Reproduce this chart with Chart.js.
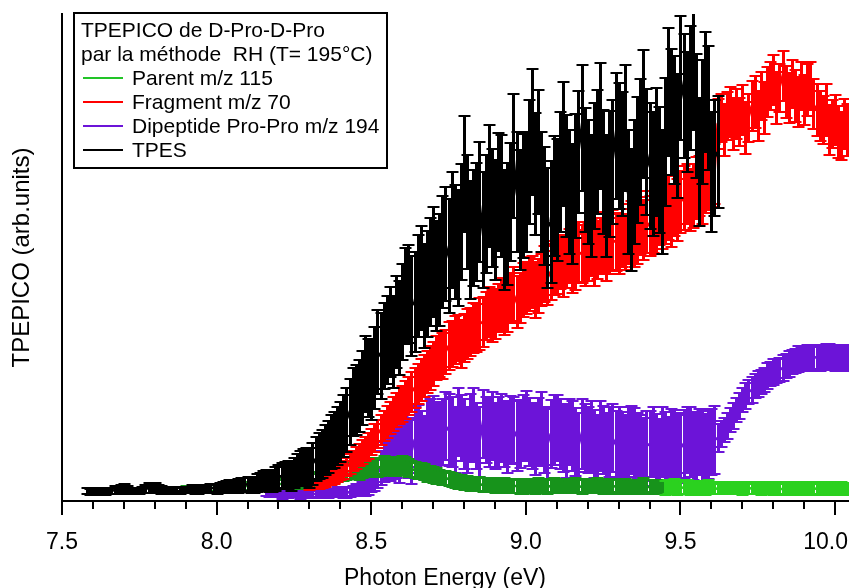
<!DOCTYPE html>
<html>
<head>
<meta charset="utf-8">
<script src="https://cdn.jsdelivr.net/npm/chart.js@4.4.0/dist/chart.umd.min.js"></script>
<style>
html,body{margin:0;padding:0;background:#ffffff;}
#wrap{width:849px;height:588px;position:relative;}
</style>
</head>
<body>
<div id="wrap"><canvas id="c" width="849" height="588"></canvas></div>
<script>
// ---------- DATA ----------
const energy = [
7.58,7.59,
7.60,7.61,7.62,7.63,7.64,7.65,7.66,7.67,7.68,7.69,
7.70,7.71,7.72,7.73,7.74,7.75,7.76,7.77,7.78,7.79,
7.80,7.81,7.82,7.83,7.84,7.85,7.86,7.87,7.88,7.89,
7.90,7.91,7.92,7.93,7.94,7.95,7.96,7.97,7.98,7.99,
8.00,8.01,8.02,8.03,8.04,8.05,8.06,8.07,8.08,8.09,
8.10,8.11,8.12,8.13,8.14,8.15,8.16,8.17,8.18,8.19,
8.20,8.21,8.22,8.23,8.24,8.25,8.26,8.27,8.28,8.29,
8.30,8.31,8.32,8.33,8.34,8.35,8.36,8.37,8.38,8.39,
8.40,8.41,8.42,8.43,8.44,8.45,8.46,8.47,8.48,8.49,
8.50,8.51,8.52,8.53,8.54,8.55,8.56,8.57,8.58,8.59,
8.60,8.61,8.62,8.63,8.64,8.65,8.66,8.67,8.68,8.69,
8.70,8.71,8.72,8.73,8.74,8.75,8.76,8.77,8.78,8.79,
8.80,8.81,8.82,8.83,8.84,8.85,8.86,8.87,8.88,8.89,
8.90,8.91,8.92,8.93,8.94,8.95,8.96,8.97,8.98,8.99,
9.00,9.01,9.02,9.03,9.04,9.05,9.06,9.07,9.08,9.09,
9.10,9.11,9.12,9.13,9.14,9.15,9.16,9.17,9.18,9.19,
9.20,9.21,9.22,9.23,9.24,9.25,9.26,9.27,9.28,9.29,
9.30,9.31,9.32,9.33,9.34,9.35,9.36,9.37,9.38,9.39,
9.40,9.41,9.42,9.43,9.44,9.45,9.46,9.47,9.48,9.49,
9.50,9.51,9.52,9.53,9.54,9.55,9.56,9.57,9.58,9.59,
9.60,9.61,9.62,9.63,9.64,9.65,9.66,9.67,9.68,9.69,
9.70,9.71,9.72,9.73,9.74,9.75,9.76,9.77,9.78,9.79,
9.80,9.81,9.82,9.83,9.84,9.85,9.86,9.87,9.88,9.89,
9.90,9.91,9.92,9.93,9.94,9.95,9.96,9.97,9.98,9.99,
10.00,10.01,10.02,10.03,10.04
];

// TPES (black), 7.58 .. 9.62
const tpesStart = 7.58;
const tpes = [
1,0,
0,1,1,0,0,1,1,2,2,3,
3,2,1,1,1,1,2,3,4,4,
4,3,2,1,1,2,2,1,1,2,
2,2,3,2,2,3,3,3,4,4,
3,4,5,5,6,5,5,6,7,7,
8,7,7,9,10,11,12,11,11,13,
15,16,17,17,16,19,22,24,25,25,
24,28,33,36,38,42,45,50,52,56,
60,66,72,80,90,92,96,104,118,114,
112,124,140,136,146,152,160,150,170,164,
180,196,198,186,190,206,214,196,208,220,
230,216,222,240,248,236,262,250,244,270,
318,280,252,264,270,290,262,278,306,284,
272,300,296,262,268,290,336,300,282,296,
300,330,360,318,340,300,286,264,270,296,
292,320,348,316,300,288,316,340,364,322,
310,296,326,340,366,320,296,318,330,356,
346,338,364,300,282,310,332,350,378,340,
326,318,340,322,300,350,400,380,372,356,
414,396,380,404,422,376,330,370,400,384,
320,334,340
];
const tpesErr = [
3,3,
3,3,3,3,3,3,3,4,4,4,
5,4,3,3,3,3,3,4,5,5,
5,4,4,3,3,3,3,3,3,3,
3,3,4,4,4,4,4,4,4,4,
5,5,5,6,6,6,6,7,7,7,
7,8,8,9,9,10,10,11,11,12,
12,13,13,14,15,15,16,17,18,19,
20,21,22,23,24,25,26,27,28,29,
30,31,32,33,34,35,36,37,38,39,
40,41,42,43,43,44,45,46,46,47,
48,48,49,50,50,51,52,52,53,54,
55,55,56,56,57,57,58,57,58,58,
58,57,59,58,59,60,58,59,61,59,
60,59,61,60,61,59,62,60,60,62,
60,62,63,61,62,60,59,60,61,60,
61,60,62,61,62,60,62,61,63,62,
62,61,63,62,63,62,61,63,62,63,
63,62,63,62,61,62,63,63,64,63,
63,62,64,63,62,64,64,63,64,62,
62,62,60,62,60,62,64,62,60,62,
60,58,56
];

// Fragment m/z 70 (red), 8.30 .. 10.04
const fragmentStart = 8.30;
const fragment = [
6,7,8,8,9,11,13,14,15,18,
20,22,25,28,31,34,37,40,43,46,
50,54,58,62,66,70,74,78,82,86,
88,92,96,100,104,108,112,116,120,124,
128,134,138,136,140,146,148,152,154,148,
154,158,160,164,164,168,170,176,180,176,
178,184,188,182,186,194,198,190,194,202,
204,208,210,202,206,212,218,214,220,224,
226,230,224,232,236,228,230,240,238,234,
240,244,236,242,246,250,240,246,252,250,
248,254,250,258,262,256,258,266,262,270,
266,270,268,276,274,278,284,276,286,282,
290,294,298,292,296,304,306,300,310,314,
316,318,
368,374,362,376,380,368,378,370,
382,364,374,386,390,376,396,384,400,406,
412,394,404,416,400,394,408,396,390,406,
392,402,406,388,382,376,372,382,362,368,
372,360,356,368,362
];
const fragmentErr = [
4,4,5,5,5,6,6,7,7,8,
8,9,9,10,10,11,11,12,12,13,
13,14,14,15,15,16,16,17,17,18,
18,19,19,20,20,20,21,21,21,22,
22,22,23,23,22,24,23,24,23,24,
24,25,24,25,24,26,25,24,25,26,
25,24,26,25,26,25,27,26,25,27,
26,27,26,28,27,26,28,27,28,27,
28,27,29,28,27,29,28,30,29,28,
29,28,30,29,28,30,29,28,30,29,
30,29,28,30,29,31,30,29,30,31,
30,31,30,29,31,30,32,31,30,31,
31,32,30,31,32,31,30,32,31,32,
31,30,
25,24,26,24,25,26,25,24,
25,26,24,25,26,25,24,26,25,24,
25,26,24,25,26,25,24,26,25,24,
25,26,24,25,26,25,24,26,25,24,
25,26,24,25,26
];

// Dipeptide Pro-Pro m/z 194 (purple), 8.16 .. 10.04
const dipeptideStart = 8.16;
const dipeptide = [
-1,-2,-2,-1,
-1,-3,-3,-2,-2,-1,-1,-3,-3,-2,
-2,-2,-2,-1,-1,-2,-2,-1,-1,0,
0,-1,-1,0,1,2,2,3,4,6,
10,13,18,24,30,34,36,40,42,38,
46,50,44,40,52,56,48,44,56,60,
62,58,54,60,66,62,60,52,70,64,
58,52,64,68,56,50,68,62,60,66,
56,60,64,58,54,62,62,56,58,64,
66,60,56,52,60,64,52,48,58,62,
64,58,54,50,60,56,50,46,58,54,
52,56,48,44,56,52,46,50,54,48,
50,46,44,50,52,48,46,42,40,46,
48,50,44,40,50,46,42,48,48,44,
44,48,52,50,46,42,50,46,44,48,
50,52,54,58,62,66,72,76,82,86,
92,96,100,102,106,108,110,112,116,118,
120,121,122,124,126,128,130,131,133,133,
134,134,133,134,135,134,134,136,135,134,
134,135,135,134,134
];
const dipeptideErr = [
3,3,3,4,
3,4,3,4,3,4,3,4,3,4,
4,3,4,4,4,4,4,4,4,5,
5,5,5,5,5,6,6,7,8,9,
10,12,14,17,20,23,25,27,28,29,
29,31,30,32,33,31,33,32,35,33,
34,32,35,33,34,36,35,33,34,33,
35,33,34,36,33,35,34,33,35,34,
33,35,34,33,35,34,33,35,34,33,
35,34,33,35,34,36,33,35,34,35,
33,35,34,36,33,35,34,33,35,34,
33,35,34,33,35,34,33,35,34,33,
35,34,33,35,34,36,33,35,34,35,
33,35,34,33,35,34,33,35,34,33,
35,34,33,35,34,36,33,35,34,35,
33,34,14,13,12,13,12,13,12,13,
12,13,12,13,12,13,12,12,13,12,
13,12,12,13,12,13,12,12,13,12,
12,13,12,13,12,13,12,12,13,12,
13,12,12,13,12
];

// Parent m/z 115 (green), 7.90 .. 10.04
const parentStart = 7.90;
const parent = [
3,3,3,3,4,3,3,4,4,4,
4,4,5,5,4,4,5,5,6,6,
6,6,7,7,6,6,8,8,7,7,
8,8,9,9,10,10,9,10,11,11,
12,12,13,13,14,15,16,16,17,18,
19,19,20,21,22,22,21,23,24,24,
25,25,24,25,27,26,26,25,25,26,
27,26,24,23,22,21,21,20,18,18,
17,16,15,14,14,13,12,11,10,10,
9,9,8,8,8,8,7,7,7,7,
6,6,7,7,6,6,6,6,5,5,
6,6,6,5,7,6,6,5,6,7,
6,5,6,6,5,6,7,6,5,6,
6,5,6,7,6,5,6,6,5,6,
5,6,6,5,6,5,5,6,7,5,
5,6,5,5,6,4,5,5,6,4,
5,4,5,4,5,4,4,5,4,5,
4,4,3,4,4,3,4,4,3,4,
3,4,3,4,4,3,3,4,3,4,
3,4,3,3,4,3,3,4,3,3,
4,3,3,4,3,3,4,3,3,4,
3,3,4,3,3
];
const parentErr = [
3,3,3,3,3,3,3,3,3,3,
3,3,3,4,4,4,4,4,4,4,
4,4,4,4,5,5,5,5,5,5,
5,5,5,6,6,6,6,6,6,6,
6,7,7,7,7,7,7,8,8,8,
8,8,8,8,9,9,9,9,9,9,
9,9,9,9,9,9,9,9,9,9,
9,9,9,8,8,8,8,8,8,8,
8,8,7,7,7,7,7,7,7,7,
7,7,7,7,7,7,7,7,7,7,
7,7,7,7,7,7,7,7,7,7,
7,7,7,7,7,7,7,7,7,7,
7,6,7,7,6,7,7,6,7,7,
7,6,7,7,6,7,7,6,7,7,
7,6,7,7,6,7,7,6,7,7,
7,6,7,7,6,7,7,6,7,7,
7,6,7,7,6,7,7,6,7,7,
6,6,5,6,6,5,6,6,5,6,
6,6,5,6,6,5,6,6,5,6,
6,6,5,6,6,5,6,6,5,6,
6,6,5,6,6,5,6,6,5,6,
6,5,6,6,5
];

const xMajorTicks = [7.5, 8.0, 8.5, 9.0, 9.5, 10.0];
const xTickLabels = ['7.5', '8.0', '8.5', '9.0', '9.5', '10.0'];
const xMinorTicks = [7.6,7.7,7.8,7.9,8.1,8.2,8.3,8.4,8.6,8.7,8.8,8.9,9.1,9.2,9.3,9.4,9.6,9.7,9.8,9.9];

const legendTitle = ['TPEPICO de D-Pro-D-Pro', 'par la méthode  RH (T= 195°C)'];
const seriesNames = ['Parent m/z 115', 'Fragment m/z 70', 'Dipeptide Pro-Pro m/z 194', 'TPES'];
const xTitle = 'Photon Energy (eV)';
const yTitle = 'TPEPICO (arb.units)';

// ---------- STYLE ----------
const FONT = '"Liberation Sans", Arial, Helvetica, sans-serif';
const COL = {
  black: '#000000',
  red: '#ff0000',
  purple: '#6c14d8',
  greenDark: '#17931b',
  greenBright: '#2bd11f',
  greenLegend: '#22c428'
};
function greenAt(x) { return x < 9.45 ? COL.greenDark : COL.greenBright; }

function buildPoints(start, vals) {
  const off = energy.indexOf(start);
  return vals.map((v, i) => ({ x: energy[off + i], y: v }));
}

// ---------- PLUGINS ----------
const errorBars = {
  id: 'errorBars',
  afterDatasetDraw(chart, args) {
    const ds = chart.data.datasets[args.index];
    if (!ds.errors) return;
    const { ctx, chartArea: a, scales } = chart;
    const sx = scales.x, sy = scales.y;
    ctx.save();
    ctx.beginPath();
    ctx.rect(a.left, a.top, a.right - a.left, a.bottom - a.top);
    ctx.clip();
    ds.data.forEach((p, i) => {
      const e = ds.errors[i];
      const px = Math.round(sx.getPixelForValue(p.x)) + 0.5;
      const y1 = Math.round(sy.getPixelForValue(p.y + e));
      const y2 = Math.round(sy.getPixelForValue(p.y - e));
      ctx.strokeStyle = typeof ds.barColor === 'function' ? ds.barColor(p.x) : ds.barColor;
      ctx.lineWidth = 3;
      ctx.beginPath();
      ctx.moveTo(px, y1); ctx.lineTo(px, y2);
      ctx.stroke();
      ctx.lineWidth = 2;
      ctx.beginPath();
      ctx.moveTo(px - 6, y1); ctx.lineTo(px + 6, y1);
      ctx.moveTo(px - 6, y2); ctx.lineTo(px + 6, y2);
      ctx.stroke();
    });
    ctx.restore();
  }
};

const axisDecor = {
  id: 'axisDecor',
  afterDraw(chart) {
    const { ctx, chartArea: a, scales } = chart;
    const sx = scales.x;
    ctx.save();
    ctx.strokeStyle = '#000';
    ctx.lineWidth = 2;
    xMajorTicks.forEach(v => {
      const px = Math.round(sx.getPixelForValue(v));
      ctx.beginPath(); ctx.moveTo(px, a.bottom); ctx.lineTo(px, a.bottom + 14); ctx.stroke();
    });
    xMinorTicks.forEach(v => {
      const px = Math.round(sx.getPixelForValue(v));
      ctx.beginPath(); ctx.moveTo(px, a.bottom); ctx.lineTo(px, a.bottom + 8); ctx.stroke();
    });
    ctx.fillStyle = '#000';
    ctx.font = '23px ' + FONT;
    ctx.textAlign = 'center';
    ctx.textBaseline = 'alphabetic';
    xMajorTicks.forEach((v, i) => {
      let px = sx.getPixelForValue(v);
      const w = ctx.measureText(xTickLabels[i]).width;
      px = Math.min(px, chart.width - w / 2 - 1);
      ctx.fillText(xTickLabels[i], px, 549);
    });
    ctx.fillText(xTitle, 445, 585);
    ctx.restore();
  }
};

const legendBox = {
  id: 'legendBox',
  afterDraw(chart) {
    const ctx = chart.ctx;
    ctx.save();
    ctx.fillStyle = '#ffffff';
    ctx.fillRect(74, 13, 313, 155);
    ctx.strokeStyle = '#000';
    ctx.lineWidth = 2;
    ctx.strokeRect(74, 13, 313, 155);
    ctx.fillStyle = '#000';
    ctx.font = '21px ' + FONT;
    ctx.textAlign = 'left';
    ctx.textBaseline = 'alphabetic';
    ctx.fillText(legendTitle[0], 81, 37);
    ctx.fillText(legendTitle[1], 81, 61);
    const cols = [COL.greenLegend, COL.red, COL.purple, COL.black];
    seriesNames.forEach((name, i) => {
      const base = 85 + i * 24;
      ctx.strokeStyle = cols[i];
      ctx.lineWidth = 2;
      ctx.beginPath(); ctx.moveTo(83, base - 7); ctx.lineTo(123, base - 7); ctx.stroke();
      ctx.fillStyle = '#000';
      ctx.fillText(name, 132, base);
    });
    ctx.restore();
  }
};

// ---------- CHART ----------
const chart = new Chart(document.getElementById('c'), {
  type: 'line',
  data: {
    datasets: [
      {
        label: seriesNames[0], data: buildPoints(parentStart, parent), errors: parentErr,
        barColor: greenAt, borderColor: COL.greenDark,
        segment: { borderColor: c => greenAt(c.p0.parsed.x) }, order: 2
      },
      {
        label: seriesNames[1], data: buildPoints(fragmentStart, fragment), errors: fragmentErr,
        barColor: COL.red, borderColor: COL.red, order: 1
      },
      {
        label: seriesNames[2], data: buildPoints(dipeptideStart, dipeptide), errors: dipeptideErr,
        barColor: COL.purple, borderColor: COL.purple, order: 3
      },
      {
        label: seriesNames[3], data: buildPoints(tpesStart, tpes), errors: tpesErr,
        barColor: COL.black, borderColor: COL.black, order: 0
      }
    ]
  },
  options: {
    responsive: false,
    animation: false,
    devicePixelRatio: 1,
    layout: { padding: { top: 14, left: 0, right: 0, bottom: 0 } },
    elements: { point: { radius: 0 }, line: { borderWidth: 2.5, tension: 0 } },
    plugins: { legend: { display: false }, tooltip: { enabled: false } },
    scales: {
      x: {
        type: 'linear', min: 7.5, max: 10.045,
        afterFit(s) { s.height = 87; s.paddingLeft = 0; s.paddingRight = 0; },
        ticks: { display: false, stepSize: 0.5 },
        grid: { display: false },
        border: { display: true, color: '#000', width: 2 }
      },
      y: {
        min: -9, max: 478,
        afterFit(s) { s.width = 62; s.paddingTop = 0; s.paddingBottom = 0; },
        ticks: { display: false },
        grid: { display: false },
        border: { display: true, color: '#000', width: 2 },
        title: {
          display: true, text: yTitle, color: '#000',
          font: { family: FONT, size: 24, lineHeight: 1 },
          padding: { top: 10, bottom: 0 }
        }
      }
    }
  },
  plugins: [errorBars, axisDecor, legendBox]
});
</script>
</body>
</html>
